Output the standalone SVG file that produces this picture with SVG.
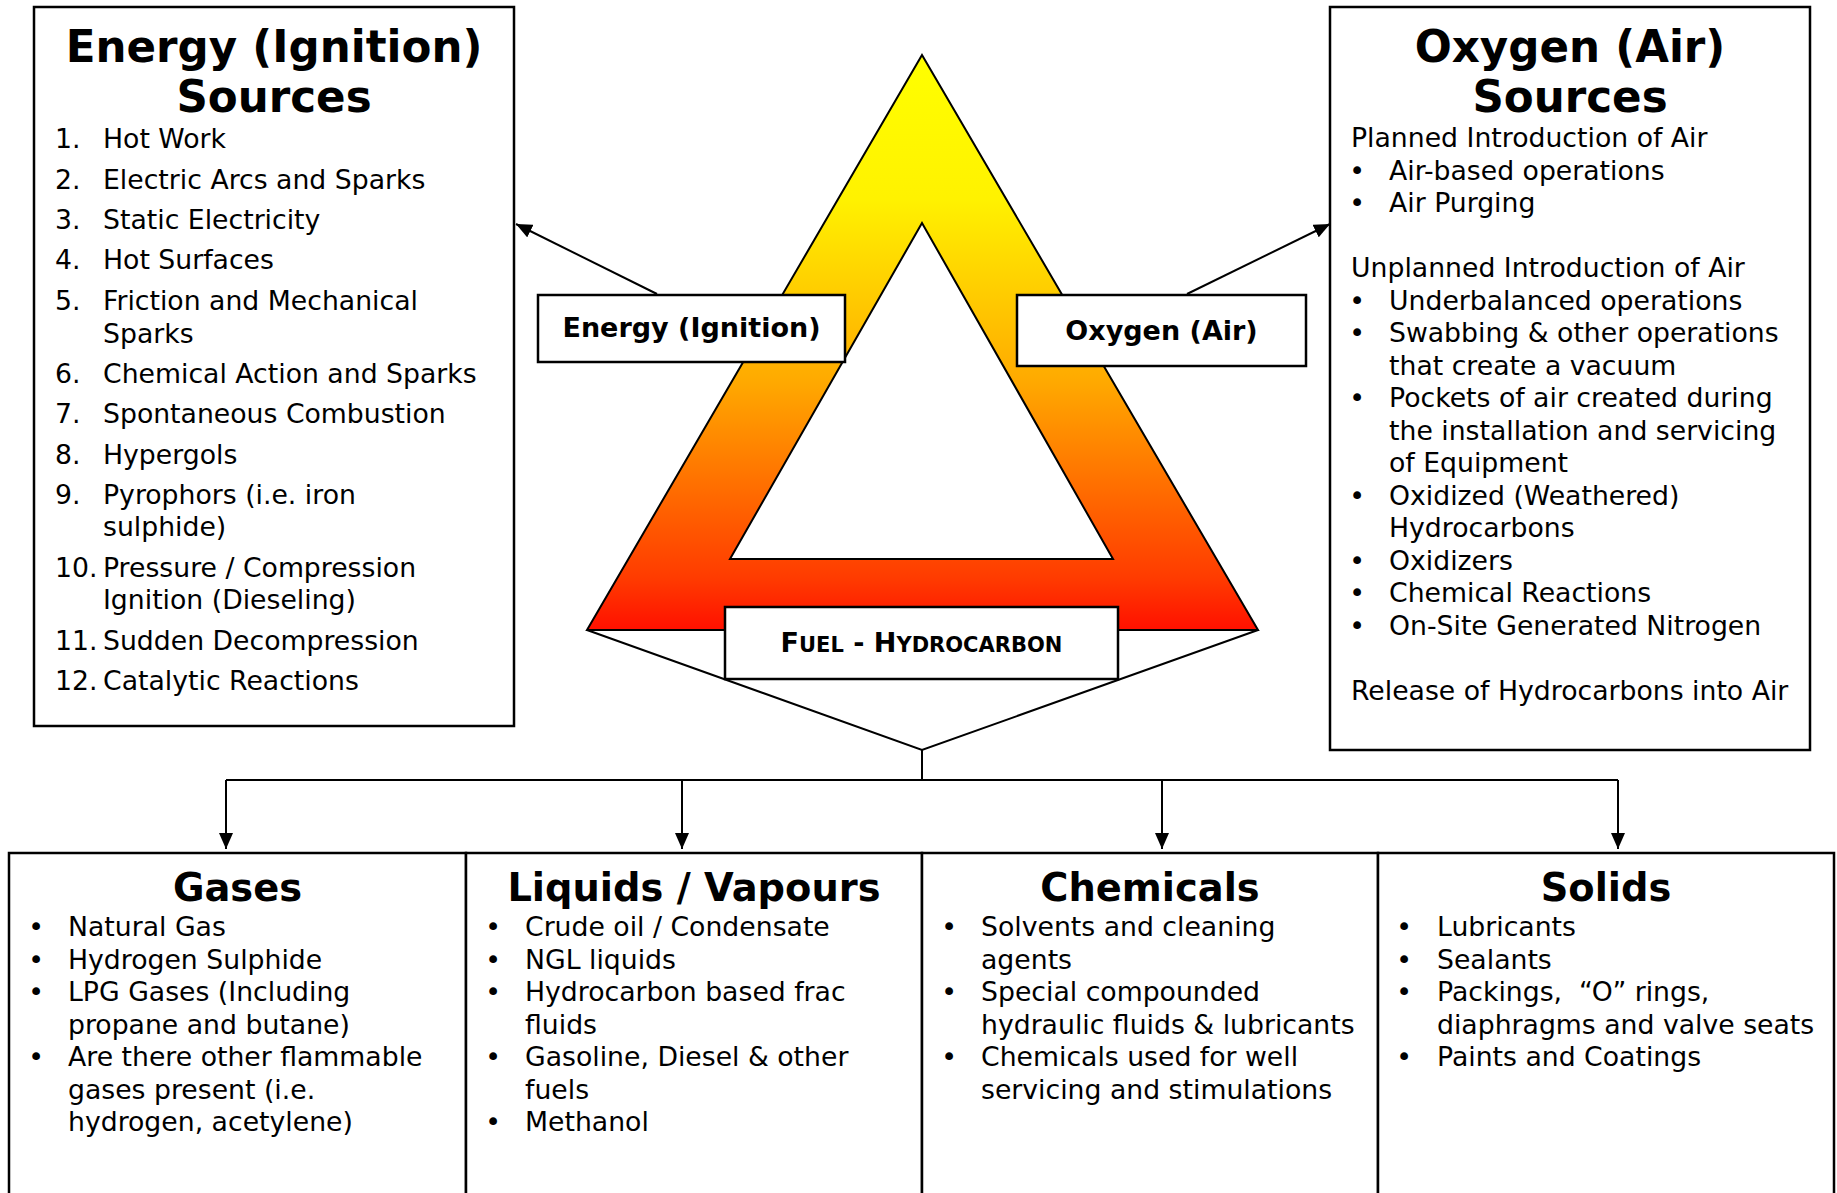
<svg xmlns="http://www.w3.org/2000/svg" width="1837" height="1193" viewBox="0 0 1837 1193">
<style>
  text { font-family: "DejaVu Sans", Verdana, sans-serif; fill: #000; }
  .t { font-size: 43.6px; font-weight: bold; text-anchor: middle; }
  .h { font-size: 38.4px; font-weight: bold; text-anchor: middle; }
  .lbl { font-size: 27px; font-weight: bold; text-anchor: middle; }
  .b { font-size: 26.7px; }
  .bu { font-size: 26.7px; text-anchor: middle; }
  .box { fill: #fff; stroke: #000; stroke-width: 2.5; }
  .con { fill: none; stroke: #000; stroke-width: 2; }
</style>
<defs>
  <linearGradient id="fire" gradientUnits="userSpaceOnUse" x1="0" y1="55" x2="0" y2="630">
    <stop offset="0" stop-color="#FFFF00"/>
    <stop offset="0.25" stop-color="#FFF200"/>
    <stop offset="0.565" stop-color="#FFAA00"/>
    <stop offset="0.91" stop-color="#FF3B00"/>
    <stop offset="1" stop-color="#FF1000"/>
  </linearGradient>
  <marker id="arr" markerUnits="userSpaceOnUse" markerWidth="18" markerHeight="14" refX="16" refY="7" orient="auto">
    <path d="M0,0 L16,7 L0,14 z" fill="#000"/>
  </marker>
</defs>

<g id="fire-triangle">
  <path d="M922,55 L1258,630 L587,630 Z M922,223 L730,559 L1113,559 Z" fill="url(#fire)" fill-rule="evenodd" stroke="#000" stroke-width="2"/>
</g>

<g id="connectors">
  <line class="con" x1="657" y1="294" x2="516" y2="224" marker-end="url(#arr)"/>
  <line class="con" x1="1187" y1="294" x2="1330" y2="224" marker-end="url(#arr)"/>
  <polyline class="con" points="587,630 922,750 1258,630"/>
  <line class="con" x1="922" y1="750" x2="922" y2="780"/>
  <line class="con" x1="226" y1="780" x2="1618" y2="780"/>
  <line class="con" x1="226" y1="780" x2="226" y2="849" marker-end="url(#arr)"/>
  <line class="con" x1="682" y1="780" x2="682" y2="849" marker-end="url(#arr)"/>
  <line class="con" x1="1162" y1="780" x2="1162" y2="849" marker-end="url(#arr)"/>
  <line class="con" x1="1618" y1="780" x2="1618" y2="849" marker-end="url(#arr)"/>
</g>

<g id="energy-label">
  <rect class="box" x="538" y="295" width="307" height="67"/>
  <text class="lbl" x="691.5" y="337">Energy (Ignition)</text>
</g>

<g id="oxygen-label">
  <rect class="box" x="1017" y="295" width="289" height="71"/>
  <text class="lbl" x="1161.5" y="340">Oxygen (Air)</text>
</g>

<g id="fuel-label">
  <rect class="box" x="725" y="607" width="393" height="72"/>
  <text x="921.5" y="652" text-anchor="middle" font-weight="bold" font-size="27"><tspan>F</tspan><tspan font-size="21">UEL</tspan><tspan> - H</tspan><tspan font-size="21">YDROCARBON</tspan></text>
</g>

<g id="energy-sources">
  <rect class="box" x="34" y="7" width="480" height="719"/>
  <text class="t" x="274" y="62">Energy (Ignition)</text>
  <text class="t" x="274" y="112">Sources</text>
  <text class="b" x="55" y="148">1.</text><text class="b" x="103" y="148">Hot Work</text>
  <text class="b" x="55" y="189">2.</text><text class="b" x="103" y="189">Electric Arcs and Sparks</text>
  <text class="b" x="55" y="229">3.</text><text class="b" x="103" y="229">Static Electricity</text>
  <text class="b" x="55" y="269">4.</text><text class="b" x="103" y="269">Hot Surfaces</text>
  <text class="b" x="55" y="310">5.</text><text class="b" x="103" y="310">Friction and Mechanical</text>
  <text class="b" x="103" y="343">Sparks</text>
  <text class="b" x="55" y="383">6.</text><text class="b" x="103" y="383">Chemical Action and Sparks</text>
  <text class="b" x="55" y="423">7.</text><text class="b" x="103" y="423">Spontaneous Combustion</text>
  <text class="b" x="55" y="464">8.</text><text class="b" x="103" y="464">Hypergols</text>
  <text class="b" x="55" y="504">9.</text><text class="b" x="103" y="504">Pyrophors (i.e. iron</text>
  <text class="b" x="103" y="536">sulphide)</text>
  <text class="b" x="55" y="577">10.</text><text class="b" x="103" y="577">Pressure / Compression</text>
  <text class="b" x="103" y="609">Ignition (Dieseling)</text>
  <text class="b" x="55" y="650">11.</text><text class="b" x="103" y="650">Sudden Decompression</text>
  <text class="b" x="55" y="690">12.</text><text class="b" x="103" y="690">Catalytic Reactions</text>
</g>

<g id="oxygen-sources">
  <rect class="box" x="1330" y="7" width="480" height="743"/>
  <text class="t" x="1570" y="62">Oxygen (Air)</text>
  <text class="t" x="1570" y="112">Sources</text>
  <text class="b" x="1351" y="147">Planned Introduction of Air</text>
  <text class="bu" x="1357" y="179.5">•</text><text class="b" x="1389" y="179.5">Air-based operations</text>
  <text class="bu" x="1357" y="212">•</text><text class="b" x="1389" y="212">Air Purging</text>
  <text class="b" x="1351" y="277">Unplanned Introduction of Air</text>
  <text class="bu" x="1357" y="309.5">•</text><text class="b" x="1389" y="309.5">Underbalanced operations</text>
  <text class="bu" x="1357" y="342">•</text><text class="b" x="1389" y="342">Swabbing &amp; other operations</text>
  <text class="b" x="1389" y="374.5">that create a vacuum</text>
  <text class="bu" x="1357" y="407">•</text><text class="b" x="1389" y="407">Pockets of air created during</text>
  <text class="b" x="1389" y="439.5">the installation and servicing</text>
  <text class="b" x="1389" y="472">of Equipment</text>
  <text class="bu" x="1357" y="504.5">•</text><text class="b" x="1389" y="504.5">Oxidized (Weathered)</text>
  <text class="b" x="1389" y="537">Hydrocarbons</text>
  <text class="bu" x="1357" y="569.5">•</text><text class="b" x="1389" y="569.5">Oxidizers</text>
  <text class="bu" x="1357" y="602">•</text><text class="b" x="1389" y="602">Chemical Reactions</text>
  <text class="bu" x="1357" y="634.5">•</text><text class="b" x="1389" y="634.5">On-Site Generated Nitrogen</text>
  <text class="b" x="1351" y="699.5">Release of Hydrocarbons into Air</text>
</g>

<g id="gases">
  <rect class="box" x="9" y="853" width="457" height="360"/>
  <text class="h" x="237.5" y="901">Gases</text>
  <text class="bu" x="36" y="936">•</text><text class="b" x="68" y="936">Natural Gas</text>
  <text class="bu" x="36" y="968.5">•</text><text class="b" x="68" y="968.5">Hydrogen Sulphide</text>
  <text class="bu" x="36" y="1001">•</text><text class="b" x="68" y="1001">LPG Gases (Including</text>
  <text class="b" x="68" y="1033.5">propane and butane)</text>
  <text class="bu" x="36" y="1066">•</text><text class="b" x="68" y="1066">Are there other flammable</text>
  <text class="b" x="68" y="1098.5">gases present (i.e.</text>
  <text class="b" x="68" y="1131">hydrogen, acetylene)</text>
</g>

<g id="liquids-vapours">
  <rect class="box" x="466" y="853" width="456" height="360"/>
  <text class="h" x="694" y="901">Liquids / Vapours</text>
  <text class="bu" x="493" y="936">•</text><text class="b" x="525" y="936">Crude oil / Condensate</text>
  <text class="bu" x="493" y="968.5">•</text><text class="b" x="525" y="968.5">NGL liquids</text>
  <text class="bu" x="493" y="1001">•</text><text class="b" x="525" y="1001">Hydrocarbon based frac</text>
  <text class="b" x="525" y="1033.5">fluids</text>
  <text class="bu" x="493" y="1066">•</text><text class="b" x="525" y="1066">Gasoline, Diesel &amp; other</text>
  <text class="b" x="525" y="1098.5">fuels</text>
  <text class="bu" x="493" y="1131">•</text><text class="b" x="525" y="1131">Methanol</text>
</g>

<g id="chemicals">
  <rect class="box" x="922" y="853" width="456" height="360"/>
  <text class="h" x="1150" y="901">Chemicals</text>
  <text class="bu" x="949" y="936">•</text><text class="b" x="981" y="936">Solvents and cleaning</text>
  <text class="b" x="981" y="968.5">agents</text>
  <text class="bu" x="949" y="1001">•</text><text class="b" x="981" y="1001">Special compounded</text>
  <text class="b" x="981" y="1033.5">hydraulic fluids &amp; lubricants</text>
  <text class="bu" x="949" y="1066">•</text><text class="b" x="981" y="1066">Chemicals used for well</text>
  <text class="b" x="981" y="1098.5">servicing and stimulations</text>
</g>

<g id="solids">
  <rect class="box" x="1378" y="853" width="456" height="360"/>
  <text class="h" x="1606" y="901">Solids</text>
  <text class="bu" x="1404" y="936">•</text><text class="b" x="1437" y="936">Lubricants</text>
  <text class="bu" x="1404" y="968.5">•</text><text class="b" x="1437" y="968.5">Sealants</text>
  <text class="bu" x="1404" y="1001">•</text><text class="b" x="1437" y="1001" style="white-space:pre">Packings,  “O” rings,</text>
  <text class="b" x="1437" y="1033.5">diaphragms and valve seats</text>
  <text class="bu" x="1404" y="1066">•</text><text class="b" x="1437" y="1066">Paints and Coatings</text>
</g>
</svg>
